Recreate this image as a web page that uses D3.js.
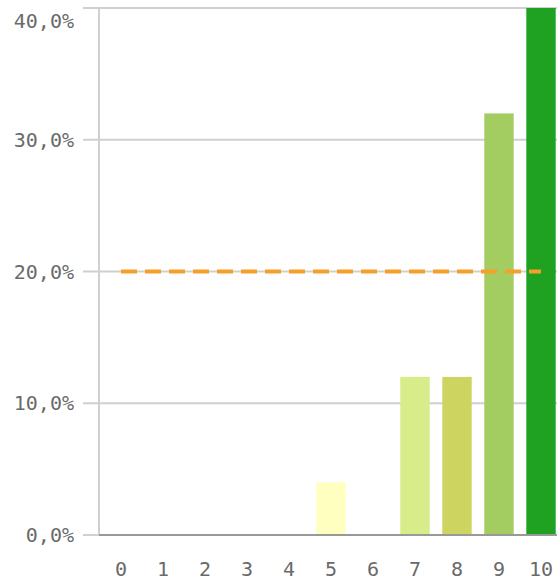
<!DOCTYPE html>
<html>
<head>
<meta charset="utf-8">
<script src="https://cdn.jsdelivr.net/npm/d3@7"></script>
<style>
  html, body { margin: 0; padding: 0; background: #fff; }
  svg { display: block; }
  text { font-family: "DejaVu Sans Mono", monospace; font-size: 20px; fill: #6a6a6a; }
</style>
</head>
<body>
<svg id="chart" width="557" height="582"></svg>
<script>
// Share of responses per score (0–10)
const categories = ["0", "1", "2", "3", "4", "5", "6", "7", "8", "9", "10"];
const shares = [0, 0, 0, 0, 0, 4, 0, 12, 12, 32, 40];
const barColors = ["#ffffc0", "#ffffc0", "#ffffc0", "#ffffc0", "#ffffc0", "#ffffc0",
                   "#ffffc0", "#d8ec8a", "#cdd560", "#a3cd60", "#1fa222"];
const yTicks = [0, 10, 20, 30, 40];
const referenceLevel = 20;

const svg = d3.select("#chart");

const locale = d3.formatLocale({ decimal: ",", thousands: ".", grouping: [3], currency: ["", "€"] });
const fmt = v => locale.format(".1f")(v) + "%";

const x = d3.scaleBand()
  .domain(categories)
  .range([100, 562])
  .paddingInner(0.3)
  .paddingOuter(0.15);

const y = d3.scaleLinear()
  .domain([0, 40])
  .range([535, 8]);

// Horizontal gridlines with tick stubs left of the axis
svg.append("g")
  .selectAll("line")
  .data(yTicks)
  .join("line")
  .attr("x1", 83)
  .attr("x2", 557)
  .attr("y1", d => y(d))
  .attr("y2", d => y(d))
  .attr("stroke", "#d0d0d0")
  .attr("stroke-width", 2);

// Vertical axis line
svg.append("line")
  .attr("x1", 99).attr("x2", 99)
  .attr("y1", y(40) - 1).attr("y2", y(0))
  .attr("stroke", "#d0d0d0")
  .attr("stroke-width", 2);

// Bars
svg.append("g")
  .selectAll("rect")
  .data(categories)
  .join("rect")
  .attr("x", d => x(d))
  .attr("width", x.bandwidth())
  .attr("y", (d, i) => y(shares[i]))
  .attr("height", (d, i) => y(0) - y(shares[i]))
  .attr("fill", (d, i) => barColors[i]);

// Baseline
svg.append("line")
  .attr("x1", 99).attr("x2", 557)
  .attr("y1", y(0)).attr("y2", y(0))
  .attr("stroke", "#999")
  .attr("stroke-width", 2);

// Reference level
svg.append("line")
  .attr("x1", x(categories[0]) + x.bandwidth() / 2)
  .attr("x2", x(categories[categories.length - 1]) + x.bandwidth() / 2)
  .attr("y1", y(referenceLevel))
  .attr("y2", y(referenceLevel))
  .attr("stroke", "#f5a02a")
  .attr("stroke-width", 4)
  .attr("stroke-dasharray", "16,8");

// Y labels (the top one is kept inside the frame)
svg.append("g")
  .selectAll("text")
  .data(yTicks)
  .join("text")
  .attr("x", 74)
  .attr("y", d => Math.max(y(d), 21))
  .attr("dy", "0.35em")
  .attr("text-anchor", "end")
  .text(d => fmt(d));

// X labels
svg.append("g")
  .selectAll("text")
  .data(categories)
  .join("text")
  .attr("x", d => x(d) + x.bandwidth() / 2)
  .attr("y", 576)
  .attr("text-anchor", "middle")
  .text(d => d);
</script>
</body>
</html>
